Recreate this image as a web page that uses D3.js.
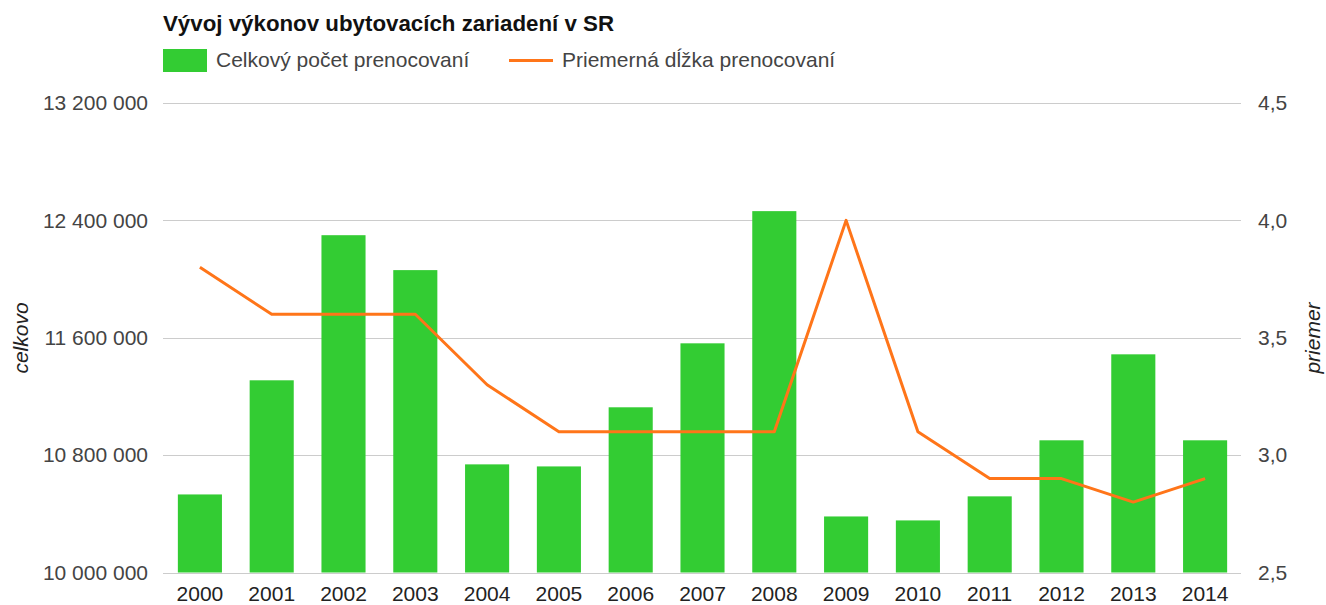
<!DOCTYPE html>
<html>
<head>
<meta charset="utf-8">
<script src="https://cdn.jsdelivr.net/npm/d3@7"></script>
<style>
body { margin: 0; background: #fff; }
text { font-family: "Liberation Sans", Arial, sans-serif; }
</style>
</head>
<body>
<div class="chart"></div>
<script>
const years = ['2000','2001','2002','2003','2004','2005','2006','2007','2008','2009','2010','2011','2012','2013','2014']
const nights = [10532000, 11310000, 12299000, 12061000, 10737000, 10723000, 11126000, 11562000, 12463000, 10382000, 10355000, 10519000, 10901000, 11487000, 10901000]
const avgStay = [3.8, 3.6, 3.6, 3.6, 3.3, 3.1, 3.1, 3.1, 3.1, 4.0, 3.1, 2.9, 2.9, 2.8, 2.9]
const leftTicks = [10000000, 10800000, 11600000, 12400000, 13200000]
const rightTicks = [2.5, 3.0, 3.5, 4.0, 4.5]

const title = 'Vývoj výkonov ubytovacích zariadení v SR'
const barName = 'Celkový počet prenocovaní'
const lineName = 'Priemerná dĺžka prenocovaní'

let width = 1326
let height = 605
let fontSize = '21px'

let svg = d3.select('.chart').append('svg')
.attr('width', width)
.attr('height', height)

let x = d3.scaleBand()
.domain(years)
.range([164, 1241])
.paddingInner(0.386)
.paddingOuter(0.193)

let yL = d3.scaleLinear()
.domain([10000000, 13200000])
.range([572.5, 103])

let yR = d3.scaleLinear()
.domain([2.5, 4.5])
.range([572.5, 103])

// gridlines
svg.append('g')
.selectAll('line')
.data(leftTicks)
.enter()
.append('line')
.attr('x1', 163)
.attr('x2', 1241)
.attr('y1', d => Math.round(yL(d)) + 0.5)
.attr('y2', d => Math.round(yL(d)) + 0.5)
.style('stroke', '#cccccc')
.style('stroke-width', 1)

let fmtL = d => d3.format(',')(d).replace(/,/g, ' ')
let fmtR = d => d3.format('.1f')(d).replace('.', ',')

let axisL = svg.append('g')
.attr('transform', 'translate(148,0)')
.call(d3.axisLeft(yL).tickValues(leftTicks).tickFormat(fmtL).tickSize(0).tickPadding(0))
axisL.select('.domain').remove()
axisL.selectAll('text')
.style('font-size', fontSize)
.style('fill', '#444')
.style('font-family', '"Liberation Sans", Arial, sans-serif')

let axisR = svg.append('g')
.attr('transform', 'translate(1258,0)')
.call(d3.axisRight(yR).tickValues(rightTicks).tickFormat(fmtR).tickSize(0).tickPadding(0))
axisR.select('.domain').remove()
axisR.selectAll('text')
.style('font-size', fontSize)
.style('fill', '#444')
.style('font-family', '"Liberation Sans", Arial, sans-serif')

// bars
svg.append('g')
.selectAll('rect')
.data(years)
.enter()
.append('rect')
.attr('x', d => x(d))
.attr('width', x.bandwidth())
.attr('y', (d, i) => yL(nights[i]))
.attr('height', (d, i) => yL(10000000) - yL(nights[i]))
.style('fill', '#33cc33')

let axisX = svg.append('g')
.attr('transform', 'translate(0,586)')
.call(d3.axisBottom(x).tickSize(0).tickPadding(0))
axisX.select('.domain').remove()
axisX.selectAll('text')
.attr('dy', '0.71em')
.style('font-size', fontSize)
.style('fill', '#222')
.style('font-family', '"Liberation Sans", Arial, sans-serif')

// line
let line = d3.line()
.x((d, i) => x(years[i]) + x.bandwidth() / 2)
.y(d => yR(d))

svg.append('path')
.datum(avgStay)
.attr('d', line)
.style('fill', 'none')
.style('stroke', '#ff7519')
.style('stroke-width', 3)
.style('stroke-linejoin', 'round')

// title & legend
svg.append('text')
.attr('x', 163)
.attr('y', 31)
.text(title)
.style('font-size', '22.3px')
.style('font-weight', 'bold')
.style('fill', '#111')

svg.append('rect')
.attr('x', 163)
.attr('y', 49)
.attr('width', 44)
.attr('height', 23)
.style('fill', '#33cc33')

svg.append('text')
.attr('x', 216)
.attr('y', 67)
.text(barName)
.style('font-size', fontSize)
.style('fill', '#444')

svg.append('line')
.attr('x1', 509)
.attr('x2', 553)
.attr('y1', 60.5)
.attr('y2', 60.5)
.style('stroke', '#ff7519')
.style('stroke-width', 3)

svg.append('text')
.attr('x', 562)
.attr('y', 67)
.text(lineName)
.style('font-size', fontSize)
.style('fill', '#444')

// axis titles
svg.append('text')
.attr('transform', 'translate(28,338) rotate(-90)')
.attr('text-anchor', 'middle')
.text('celkovo')
.style('font-size', fontSize)
.style('font-style', 'italic')
.style('fill', '#222')

svg.append('text')
.attr('transform', 'translate(1320,338) rotate(-90)')
.attr('text-anchor', 'middle')
.text('priemer')
.style('font-size', fontSize)
.style('font-style', 'italic')
.style('fill', '#222')
</script>
</body>
</html>
